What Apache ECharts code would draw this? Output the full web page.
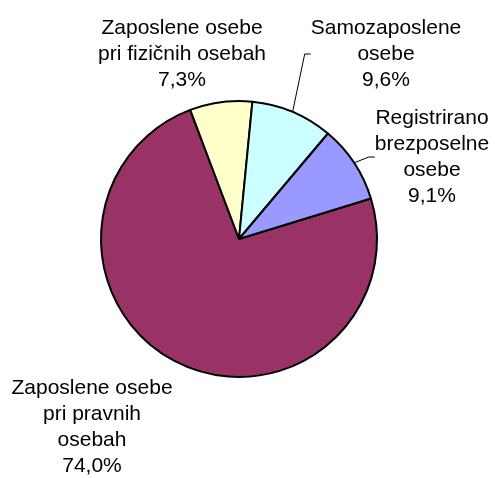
<!DOCTYPE html>
<html>
<head>
<meta charset="utf-8">
<script src="https://cdn.jsdelivr.net/npm/echarts@6/dist/echarts.min.js"></script>
<style>
  html, body { margin: 0; padding: 0; background: #fff; }
  #chart { width: 495px; height: 478px; }
</style>
</head>
<body>
<div id="chart"></div>
<script>
// deleži (%)
const names = [
  'Zaposlene osebe\npri pravnih\nosebah',
  'Zaposlene osebe\npri fizičnih osebah',
  'Samozaposlene\nosebe',
  'Registrirano\nbrezposelne\nosebe'
]
const values = [74.0, 7.3, 9.6, 9.1]
const colors = ['#993366', '#FFFFCC', '#CCFFFF', '#9999FF']
const showLine = [false, false, true, true]

// label centre positions (px)
const labelPos = [[92, 427], [182, 54], [386, 54], [432, 157]]

const chart = echarts.init(document.getElementById('chart'))
chart.setOption({
  animation: false,
  series: [{
    type: 'pie',
    center: [239, 239],
    radius: 138,
    startAngle: 17.1,
    clockwise: true,
    data: names.map((n, i) => ({
      name: n,
      value: values[i],
      itemStyle: { color: colors[i] },
      labelLine: { show: showLine[i] }
    })),
    itemStyle: { borderColor: '#000', borderWidth: 2 },
    label: {
      show: true,
      position: 'outside',
      formatter: p => p.name + '\n' + p.value.toFixed(1).replace('.', ',') + '%',
      fontFamily: 'Liberation Sans, Arial, sans-serif',
      fontSize: 21,
      lineHeight: 26,
      color: '#000',
      align: 'center',
      overflow: 'none'
    },
    labelLine: { lineStyle: { color: '#000', width: 1 }, length: 8, length2: 6 },
    labelLayout: p => ({
      x: labelPos[p.dataIndex][0],
      y: labelPos[p.dataIndex][1],
      align: 'center',
      verticalAlign: 'middle'
    }),
    emphasis: { disabled: true }
  }]
})
</script>
</body>
</html>
